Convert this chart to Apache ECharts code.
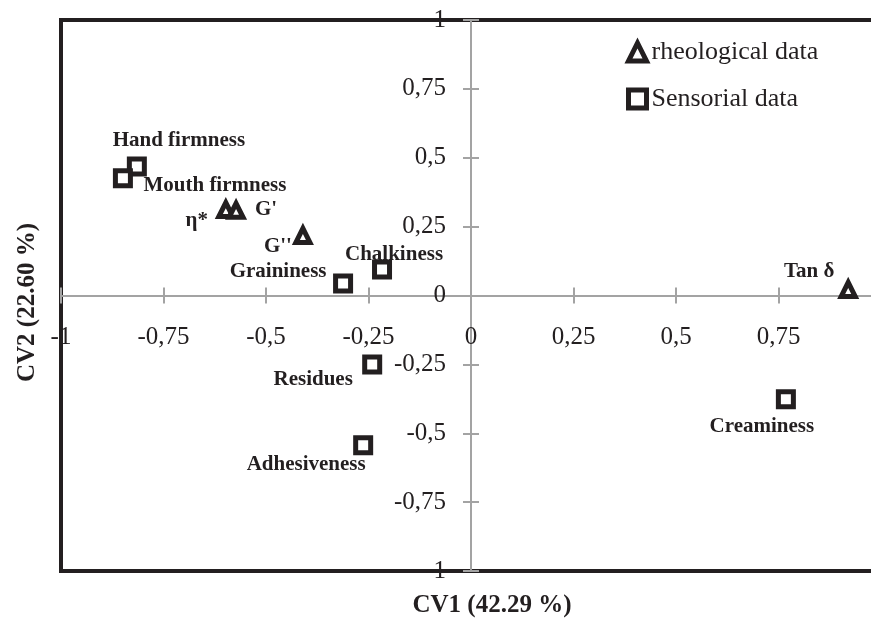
<!DOCTYPE html>
<html>
<head>
<meta charset="utf-8">
<script src="https://cdn.jsdelivr.net/npm/echarts@6/dist/echarts.min.js"></script>
<style>
  html, body { margin: 0; padding: 0; background: #fff; }
</style>
</head>
<body>
<div id="cvaChart" style="width:871px;height:619px;"></div>
<script>
// sensorial attributes
const sensNames = ["Hand firmness", "Mouth firmness", "Graininess", "Chalkiness", "Residues", "Adhesiveness", "Creaminess"];
const sensX = [-0.815, -0.849, -0.312, -0.217, -0.241, -0.263, 0.768];
const sensY = [0.468, 0.426, 0.044, 0.094, -0.250, -0.544, -0.377];

// rheological parameters
const rheoNames = ["η*", "G'", "G''", "Tan δ"];
const rheoX = [-0.598, -0.573, -0.41, 0.92];
const rheoY = [0.312, 0.309, 0.218, 0.022];

// label placement (px, relative to the marker)
const labelOffset = {
  "Hand firmness": [42, -26],
  "Mouth firmness": [92, 7],
  "Graininess": [-65, -12],
  "Chalkiness": [12, -15],
  "Residues": [-59, 15],
  "Adhesiveness": [-57, 19],
  "Creaminess": [-24, 27],
  "η*": [-29, 11],
  "G'": [30, -1],
  "G''": [-25, 11],
  "Tan δ": [-39, -18]
};

const ink = "#231f20";
const axisGray = "#a3a3a3";
const serif = "Liberation Serif";

// plot box (px)
const plotLeft = 61, plotTop = 20, plotW = 820, plotH = 551;

function toPoints(names, xs, ys) {
  return names.map(function (n, i) {
    return {
      name: n,
      value: [xs[i], ys[i]],
      label: { offset: labelOffset[n] }
    };
  });
}

function tickFmt(v) {
  return String(v).split(".").join(",");
}

const chart = echarts.init(document.getElementById("cvaChart"));

// axes are moved from the plot edge onto the zero line with offset;
// the second copy of each axis only adds the inner half of the ticks
function makeAxis(isX, withLabels) {
  return {
    type: "value",
    position: isX ? "bottom" : "left",
    offset: isX ? -plotH / 2 : -plotW / 2,
    min: -1,
    max: 1,
    interval: 0.25,
    splitLine: { show: false },
    axisLine: { show: withLabels, onZero: false, lineStyle: { color: axisGray, width: 2 } },
    axisTick: { show: true, inside: !withLabels, length: 8, lineStyle: { color: axisGray, width: 2 } },
    axisLabel: {
      show: withLabels,
      formatter: tickFmt,
      fontFamily: serif,
      fontSize: 25,
      color: ink,
      margin: isX ? 29 : 25,
      showMaxLabel: !isX
    }
  };
}

const xMain = makeAxis(true, true);
xMain.name = "CV1 (42.29 %)";
xMain.nameLocation = "middle";
xMain.nameGap = 298;
xMain.nameTextStyle = { fontFamily: serif, fontSize: 25, fontWeight: "bold", color: ink, padding: [0, 0, 0, 42] };

const yMain = makeAxis(false, true);
yMain.name = "CV2 (22.60 %)";
yMain.nameLocation = "middle";
yMain.nameGap = 431;
yMain.nameTextStyle = { fontFamily: serif, fontSize: 25, fontWeight: "bold", color: ink, padding: [0, 14, 0, 0] };

const markerStyle = { color: "#fff", borderColor: ink, borderWidth: 5, opacity: 1 };
const labelStyle = {
  show: true,
  position: "inside",
  formatter: "{b}",
  fontFamily: serif,
  fontSize: 21,
  fontWeight: "bold",
  color: ink
};

chart.setOption({
  animation: false,
  grid: {
    show: true,
    left: plotLeft,
    top: plotTop,
    width: plotW,
    height: plotH,
    containLabel: false,
    outerBoundsMode: "none",
    borderColor: ink,
    borderWidth: 4,
    backgroundColor: "transparent"
  },
  legend: {
    orient: "vertical",
    left: 626,
    top: 39,
    padding: 0,
    itemWidth: 18,
    itemHeight: 18,
    itemGap: 21,
    textStyle: { fontFamily: serif, fontSize: 26, color: ink },
    itemStyle: { color: "#fff", borderColor: ink, borderWidth: 5, opacity: 1 },
    data: ["rheological data", "Sensorial data"]
  },
  xAxis: [xMain, makeAxis(true, false)],
  yAxis: [yMain, makeAxis(false, false)],
  series: [
    {
      name: "rheological data",
      type: "scatter",
      symbol: "triangle",
      symbolSize: 14,
      itemStyle: markerStyle,
      label: labelStyle,
      data: toPoints(rheoNames, rheoX, rheoY),
      z: 3
    },
    {
      name: "Sensorial data",
      type: "scatter",
      symbol: "rect",
      symbolSize: 15,
      itemStyle: markerStyle,
      label: labelStyle,
      data: toPoints(sensNames, sensX, sensY),
      z: 3
    }
  ]
});
window.onresize = function () { chart.resize(); };
</script>
</body>
</html>
